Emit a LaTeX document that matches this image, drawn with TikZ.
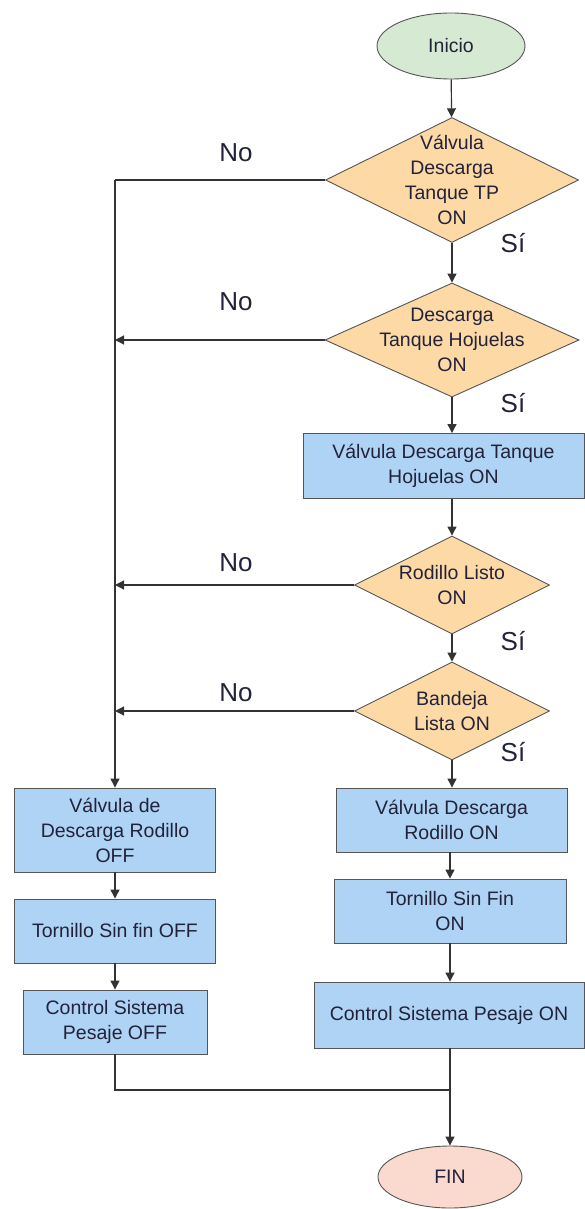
\documentclass[tikz,border=0pt]{standalone}
\usepackage{fontspec}
\setmainfont{Liberation Sans}
\usetikzlibrary{shapes.geometric,arrows.meta}
\definecolor{startfill}{HTML}{D6EAD3}
\definecolor{endfill}{HTML}{FAD9CF}
\definecolor{decfill}{HTML}{FDD9A6}
\definecolor{boxfill}{HTML}{AED3F4}
\definecolor{edge}{HTML}{555555}
\definecolor{wire}{HTML}{333333}
\definecolor{ink}{HTML}{22223A}
\begin{document}
\begin{tikzpicture}[x=1pt,y=-1pt,
  every node/.style={font=\fontsize{19.5}{25}\selectfont, text=ink, align=center},
  term/.style={ellipse, draw=edge, line width=0.9pt, inner sep=0pt},
  decision/.style={diamond, draw=edge, line width=0.9pt, fill=decfill, inner sep=0pt},
  dtext/.style={font=\fontsize{19.5}{25}\selectfont, text=ink, align=center},
  procbox/.style={rectangle, draw=edge, line width=0.9pt, fill=boxfill, inner sep=0pt},
  branch/.style={font=\fontsize{26}{30}\selectfont, text=ink},
  flow/.style={draw=wire, line width=1.2pt, -{Triangle[length=9pt,width=9pt]}},
  link/.style={draw=wire, line width=1.2pt}
]
\useasboundingbox (0,0) rectangle (585,1209);

% terminals
\node[term, fill=startfill, minimum width=148pt, minimum height=66pt] (start) at (451,46) {Inicio};
\node[term, fill=endfill, minimum width=144pt, minimum height=62pt] (fin) at (450,1177) {FIN};

% decisions
\node[decision, minimum width=253pt, minimum height=125pt,
      label={[dtext]center:{Válvula\\Descarga\\Tanque TP\\ON}}] (d1) at (452,180) {};
\node[decision, minimum width=254pt, minimum height=114pt,
      label={[dtext]center:{Descarga\\Tanque Hojuelas\\ON}}] (d2) at (452,340) {};
\node[decision, minimum width=195pt, minimum height=98pt,
      label={[dtext]center:{Rodillo Listo\\ON}}] (d3) at (452,585) {};
\node[decision, minimum width=195pt, minimum height=98pt,
      label={[dtext]center:{Bandeja\\Lista ON}}] (d4) at (452,711) {};

% process boxes, right column
\node[procbox, minimum width=281pt, minimum height=65pt] (b1) at (443.5,466) {Válvula Descarga Tanque\\Hojuelas ON};
\node[procbox, minimum width=231pt, minimum height=64pt] (r1) at (451.5,820) {Válvula Descarga\\Rodillo ON};
\node[procbox, minimum width=232pt, minimum height=64pt] (r2) at (450,911) {Tornillo Sin Fin\\ON};
\node[procbox, minimum width=270pt, minimum height=66pt] (r3) at (449,1015) {Control Sistema Pesaje ON};

% process boxes, left column
\node[procbox, minimum width=201pt, minimum height=84pt] (l1) at (115,830) {Válvula de\\Descarga Rodillo\\OFF};
\node[procbox, minimum width=201pt, minimum height=64pt] (l2) at (115,931) {Tornillo Sin fin OFF};
\node[procbox, minimum width=184pt, minimum height=64pt] (l3) at (115,1022) {Control Sistema\\Pesaje OFF};

% branch labels
\node[branch] (no1) at (236,153) {No};
\node[branch] (no2) at (236,302) {No};
\node[branch] (no3) at (236,563) {No};
\node[branch] (no4) at (236,693) {No};
\node[branch] (si1) at (513,243) {Sí};
\node[branch] (si2) at (513,403) {Sí};
\node[branch] (si3) at (513,641) {Sí};
\node[branch] (si4) at (513,752) {Sí};

% junction points
\coordinate (trunk) at (115,180);
\coordinate (join) at (450,1090);

% main "yes" path
\path[flow] (start) -- (d1);
\path[flow] (d1) -- (d2);
\path[flow] (d2.south) -- (d2.south |- b1.north);
\path[flow] (b1.south -| d3.north) -- (d3);
\path[flow] (d3) -- (d4);
\path[flow] (d4.south) -- (d4.south |- r1.north);
\path[flow] (r1.south -| r2.north) -- (r2);
\path[flow] (r2) -- (r3.north -| r2.south);
\path[flow] (r3.south -| fin.north) -- (fin);

% "no" path on the left
\path[link] (d1.west) -- (trunk);
\path[flow] (trunk) -- (l1.north);
\path[flow] (d2.west) -- (d2.west -| trunk);
\path[flow] (d3.west) -- (d3.west -| trunk);
\path[flow] (d4.west) -- (d4.west -| trunk);
\path[flow] (l1) -- (l2);
\path[flow] (l2) -- (l3);
\path[link] (l3.south) -- (l3.south |- join) -- (join);
\end{tikzpicture}
\end{document}
